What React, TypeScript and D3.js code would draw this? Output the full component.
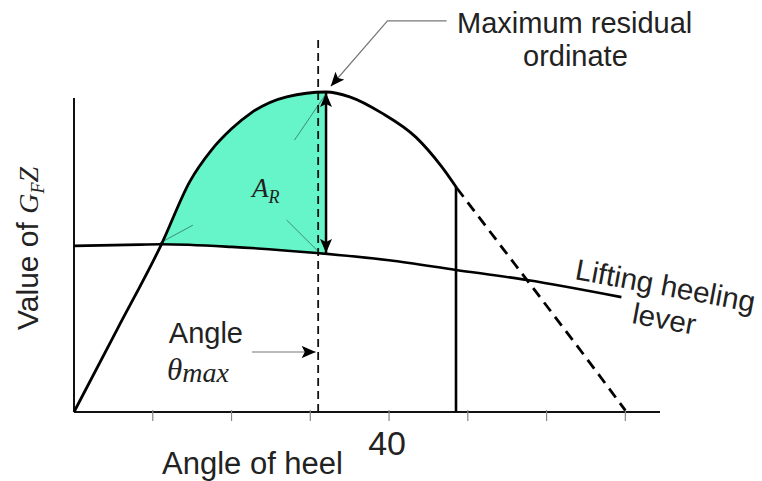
import React from "react";
import * as d3 from "d3";

// Righting lever (GZ) curve, heel angle in degrees
const heelAngles = [0, 5.5, 11.1, 14.7, 17.5, 20, 22.5, 27, 32, 35, 39.1, 43.4, 46.7, 48.6];
const gzValues = [0, 0.259, 0.524, 0.72, 0.82, 0.885, 0.935, 0.985, 1.0, 0.985, 0.934, 0.859, 0.766, 0.7];

// Continuation of the GZ curve beyond the limiting angle (shown dashed)
const extendedAngles = [48.6, 52, 56, 60, 65, 70];
const extendedValues = [0.7, 0.59, 0.461, 0.332, 0.17, 0.005];

// Lifting heeling lever
const leverAngles = [0, 8.4, 11.1, 20, 30.8, 40, 48.5, 57.5, 69.5];
const leverValues = [0.519, 0.523, 0.524, 0.516, 0.497, 0.474, 0.444, 0.4125, 0.359];

const xTicks = [10, 20, 30, 40, 50, 60, 70];
const labelledTicks = [40];

const thetaMax = 31;
const residualAngle = 32;
const limitAngle = 48.5;

const W = 762;
const H = 481;

const sans = "'Liberation Sans', Arial, Helvetica, sans-serif";
const serif = "'Liberation Serif', 'Times New Roman', serif";
const ink = "#222";

export default function App() {
  const x = d3.scaleLinear().domain([0, 74.4]).range([74, 660]);
  const y = d3.scaleLinear().domain([0, 1]).range([412, 92]);

  const gzPts: [number, number][] = heelAngles.map((a, i) => [a, gzValues[i]]);
  const extPts: [number, number][] = extendedAngles.map((a, i) => [a, extendedValues[i]]);
  const leverPts: [number, number][] = leverAngles.map((a, i) => [a, leverValues[i]]);

  const line = d3
    .line<[number, number]>()
    .x((d) => x(d[0]))
    .y((d) => y(d[1]))
    .curve(d3.curveMonotoneX);

  const areaUnderGz = d3
    .area<[number, number]>()
    .x((d) => x(d[0]))
    .y0(y(0))
    .y1((d) => y(d[1]))
    .curve(d3.curveMonotoneX);

  const aboveLever = d3
    .area<[number, number]>()
    .x((d) => x(d[0]))
    .y0(0)
    .y1((d) => y(d[1]))
    .curve(d3.curveMonotoneX);

  const leverAt = d3.scaleLinear().domain(leverAngles).range(leverValues);
  const gzAt = d3.scaleLinear().domain(heelAngles).range(gzValues);

  const resTop = y(gzAt(residualAngle));
  const resBottom = y(leverAt(residualAngle));

  // A_R leader strokes and text callouts, in data units
  const arLeaders: [number, number, number, number][] = [
    [10.9, 0.528, 15.1, 0.584],
    [27.0, 0.6, 31.2, 0.497],
    [28.0, 0.85, 31.9, 0.991],
  ];
  const maxCallout: [number, number][] = [
    [47.3, 1.222],
    [39.8, 1.222],
    [32.6, 1.018],
  ];
  const thetaCallout: [number, number][] = [
    [22.6, 0.1875],
    [30.7, 0.1875],
  ];

  const poly = d3
    .line<[number, number]>()
    .x((d) => x(d[0]))
    .y((d) => y(d[1]));

  return (
    <svg
      width={W}
      height={H}
      viewBox={`0 0 ${W} ${H}`}
      style={{ position: "fixed", left: 0, top: 0, background: "#fff" }}
    >
      <defs>
        <clipPath id="xRange">
          <rect x={x(0)} y={0} width={x(residualAngle) - x(0)} height={H} />
        </clipPath>
        <clipPath id="overLever">
          <path d={aboveLever(leverPts) || ""} />
        </clipPath>
        <marker
          id="headBlack"
          viewBox="0 0 14 12"
          refX={14}
          refY={6}
          markerWidth={14}
          markerHeight={12}
          markerUnits="userSpaceOnUse"
          orient="auto-start-reverse"
        >
          <path d="M0,0 L14,6 L0,12 L3,6 Z" fill="#000" />
        </marker>
      </defs>

      <rect width={W} height={H} fill="#fff" />

      {/* residual area between GZ and the heeling lever */}
      <g clipPath="url(#xRange)">
        <path d={areaUnderGz(gzPts) || ""} fill="#66F5C8" clipPath="url(#overLever)" />
      </g>

      {arLeaders.map((s, i) => (
        <line
          key={i}
          x1={x(s[0])}
          y1={y(s[1])}
          x2={x(s[2])}
          y2={y(s[3])}
          stroke="#3f8c78"
          strokeWidth={1}
        />
      ))}

      {/* axes */}
      <line x1={x(0)} y1={y(0)} x2={x(74.4)} y2={y(0)} stroke="#111" strokeWidth={2} />
      <line x1={x(0)} y1={y(0)} x2={x(0)} y2={y(0.981)} stroke="#111" strokeWidth={2} />
      {xTicks.map((t) => (
        <line key={t} x1={x(t)} x2={x(t)} y1={y(0) - 2} y2={y(0) + 9} stroke="#888" strokeWidth={1.2} />
      ))}
      {labelledTicks.map((t) => (
        <text key={t} x={x(t) - 2} y={455} fontFamily={sans} fontSize={34} fill={ink} textAnchor="middle">
          {t}
        </text>
      ))}

      {/* theta max */}
      <line
        x1={x(thetaMax)}
        x2={x(thetaMax)}
        y1={y(0)}
        y2={y(1.1625)}
        stroke="#111"
        strokeWidth={1.8}
        strokeDasharray="8 5"
      />

      {/* limiting angle */}
      <line x1={x(limitAngle)} x2={x(limitAngle)} y1={y(0)} y2={y(gzAt(limitAngle))} stroke="#000" strokeWidth={2.6} />

      {/* heeling lever */}
      <path d={line(leverPts) || ""} fill="none" stroke="#000" strokeWidth={2.6} />

      {/* GZ curve */}
      <path d={line(gzPts) || ""} fill="none" stroke="#000" strokeWidth={2.8} />
      <path d={line(extPts) || ""} fill="none" stroke="#000" strokeWidth={2.8} strokeDasharray="11 7" />

      {/* maximum residual ordinate */}
      <line
        x1={x(residualAngle)}
        x2={x(residualAngle)}
        y1={resBottom - 1}
        y2={resTop + 1}
        stroke="#000"
        strokeWidth={2.5}
        markerStart="url(#headBlack)"
        markerEnd="url(#headBlack)"
      />

      {/* callouts */}
      <path d={poly(maxCallout) || ""} fill="none" stroke="#777" strokeWidth={1.2} markerEnd="url(#headBlack)" />
      <path d={poly(thetaCallout) || ""} fill="none" stroke="#777" strokeWidth={1.2} markerEnd="url(#headBlack)" />

      <text x={457} y={33} fontFamily={sans} fontSize={29} fill={ink}>
        Maximum residual
      </text>
      <text x={523} y={66} fontFamily={sans} fontSize={29} fill={ink}>
        ordinate
      </text>

      <text x={243} y={343} fontFamily={sans} fontSize={29} fill={ink} textAnchor="end">
        Angle
      </text>
      <text x={167} y={380} fontFamily={serif} fontStyle="italic" fill={ink}>
        <tspan fontSize={31}>θ</tspan>
        <tspan fontSize={28} dy={2}>max</tspan>
      </text>

      <text x={252} y={197} fontFamily={serif} fontStyle="italic" fill={ink}>
        <tspan fontSize={27}>A</tspan>
        <tspan fontSize={18} dy={6}>R</tspan>
      </text>

      <text x={162} y={474} fontFamily={sans} fontSize={31} fill={ink}>
        Angle of heel
      </text>

      <g transform="translate(38,330) rotate(-90)">
        <text x={0} y={0} fill={ink}>
          <tspan fontFamily={sans} fontSize={30}>Value of </tspan>
          <tspan fontFamily={serif} fontStyle="italic" fontSize={28}>G</tspan>
          <tspan fontFamily={serif} fontStyle="italic" fontSize={18} dy={6}>F</tspan>
          <tspan fontFamily={serif} fontStyle="italic" fontSize={28} dy={-6}>Z</tspan>
        </text>
      </g>

      <g transform="translate(574,279) rotate(10.5)">
        <text x={0} y={0} fontFamily={sans} fontSize={29.5} fill={ink}>
          Lifting heeling
        </text>
        <text x={64} y={33} fontFamily={sans} fontSize={29.5} fill={ink}>
          lever
        </text>
      </g>
    </svg>
  );
}
